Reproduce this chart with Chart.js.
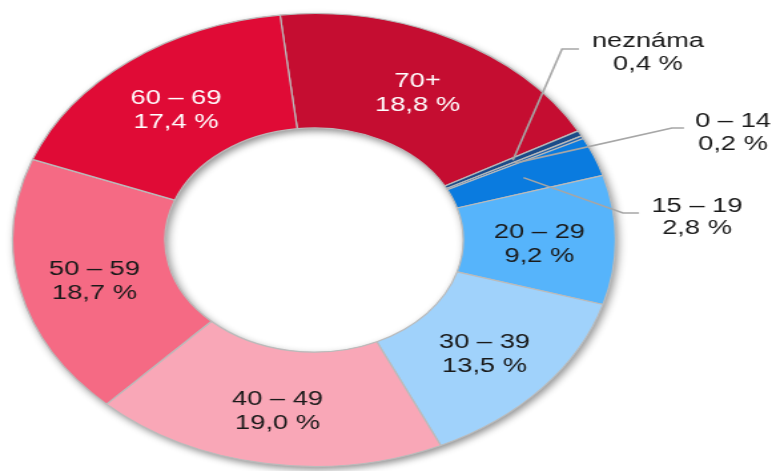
<!DOCTYPE html>
<html>
<head>
<meta charset="utf-8">
<script src="https://cdn.jsdelivr.net/npm/chart.js@4.4.1/dist/chart.umd.min.js"></script>
<style>
  html, body { margin: 0; padding: 0; background: #fff; overflow: hidden; }
  /* the original picture is stretched sideways, so the chart is too */
  #wrap { width: 583px; height: 471px; transform: scaleX(1.331); transform-origin: 0 0; }
</style>
</head>
<body>
<div id="wrap"><canvas id="chart"></canvas></div>
<script>
// Age groups and their share (%)
const ageGroups = ['70+', 'neznáma', '0 – 14', '15 – 19', '20 – 29', '30 – 39', '40 – 49', '50 – 59', '60 – 69'];
const shares = [18.8, 0.4, 0.2, 2.8, 9.2, 13.5, 19.0, 18.7, 17.4];
const sliceColors = ['#c50d31', '#1b4b88', '#2062ac', '#0a7bdf', '#56b4fb', '#a0d2fb', '#f9a7b7', '#f56a84', '#e00b36'];
const textColors = ['#ffffff', '#1a1a1a', '#1a1a1a', '#1a1a1a', '#1a1a1a', '#1a1a1a', '#1a1a1a', '#1a1a1a', '#ffffff'];

const SX = 776 / 583;

// labels outside the ring (page px): leader elbow, leader end, text centre, baselines
const outerLabels = {
    1: { elbow: [562, 49], end: [579, 49], x: 648, y: [47, 70] },
    2: { elbow: [672, 128], end: [684, 128], x: 733, y: [127, 150] },
    3: { elbow: [623, 213], end: [639, 213], x: 697, y: [212, 234] }
};

const fmt = v => v.toFixed(1).replace('.', ',') + ' %';

// soft shadow under the ring
const ringShadow = {
    id: 'ringShadow',
    beforeDatasetsDraw(chart) {
        const arc = chart.getDatasetMeta(0).data[0];
        if (!arc) return;
        const p = arc.getProps(['x', 'y', 'innerRadius', 'outerRadius'], true);
        const ctx = chart.ctx;
        ctx.save();
        ctx.shadowColor = 'rgba(0,0,0,0.45)';
        ctx.shadowBlur = 7;
        ctx.shadowOffsetX = 2;
        ctx.shadowOffsetY = 3;
        ctx.fillStyle = '#b3b3b3';
        ctx.beginPath();
        ctx.arc(p.x, p.y, p.outerRadius, 0, Math.PI * 2);
        ctx.arc(p.x, p.y, p.innerRadius, 0, Math.PI * 2, true);
        ctx.fill();
        ctx.restore();
    }
};

// two-line labels in the slices, leader lines for the small ones
const sliceLabels = {
    id: 'sliceLabels',
    afterDatasetsDraw(chart) {
        const ctx = chart.ctx;
        ctx.save();
        ctx.font = '20.5px "Liberation Sans", Arial, sans-serif';
        ctx.textAlign = 'center';
        chart.getDatasetMeta(0).data.forEach((arc, i) => {
            const p = arc.getProps(['x', 'y', 'startAngle', 'endAngle', 'innerRadius', 'outerRadius'], true);
            const a = (p.startAngle + p.endAngle) / 2;
            const r = (p.innerRadius + p.outerRadius) / 2;
            const px = p.x + r * Math.cos(a);
            const py = p.y + r * Math.sin(a);
            const lines = [ageGroups[i], fmt(shares[i])];
            const out = outerLabels[i];
            if (out) {
                ctx.strokeStyle = '#a6a6a6';
                ctx.lineWidth = 1.6;
                ctx.beginPath();
                ctx.moveTo(px, py);
                ctx.lineTo(out.elbow[0] / SX, out.elbow[1]);
                ctx.lineTo(out.end[0] / SX, out.end[1]);
                ctx.stroke();
                ctx.fillStyle = '#1a1a1a';
                ctx.textBaseline = 'alphabetic';
                lines.forEach((t, k) => ctx.fillText(t, out.x / SX, out.y[k]));
            } else {
                ctx.fillStyle = textColors[i];
                ctx.textBaseline = 'middle';
                ctx.fillText(lines[0], px, py - 8);
                ctx.fillText(lines[1], px, py + 16);
            }
        });
        ctx.restore();
    }
};

new Chart(document.getElementById('chart'), {
    type: 'doughnut',
    data: {
        labels: ageGroups,
        datasets: [{
            data: shares,
            backgroundColor: sliceColors,
            borderColor: '#bbbbbb',
            borderWidth: 1.2
        }]
    },
    options: {
        responsive: true,
        maintainAspectRatio: false,
        animation: false,
        events: [],
        rotation: -6.5,
        cutout: '49.5%',
        layout: { padding: { top: 13, bottom: 4, left: 9, right: 120 } },
        plugins: {
            legend: { display: false },
            tooltip: { enabled: false }
        }
    },
    plugins: [ringShadow, sliceLabels]
});
</script>
</body>
</html>
